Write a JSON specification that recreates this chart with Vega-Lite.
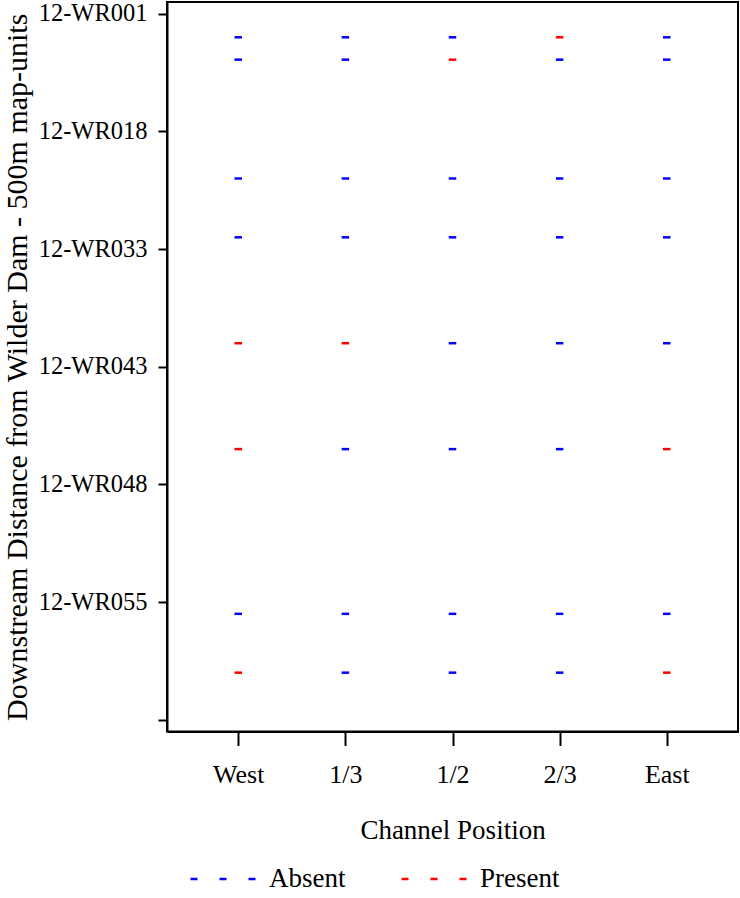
{
  "$schema": "https://vega.github.io/schema/vega-lite/v6.json",
  "autosize": {"type": "none"},
  "padding": {"left": 167, "top": 2, "right": 2, "bottom": 166.5},
  "width": 571,
  "height": 729.5,
  "background": "white",
  "config": {
    "font": "Liberation Serif, serif",
    "axis": {"labelFont": "Liberation Serif, serif", "titleFont": "Liberation Serif, serif"},
    "legend": {"labelFont": "Liberation Serif, serif", "titleFont": "Liberation Serif, serif"},
    "view": {"stroke": "black", "strokeWidth": 2}
  },
  "data": {
    "values": [
      {"site": 0.2, "position": "West", "status": "Absent"},
      {"site": 0.2, "position": "1/3", "status": "Absent"},
      {"site": 0.2, "position": "1/2", "status": "Absent"},
      {"site": 0.2, "position": "2/3", "status": "Present"},
      {"site": 0.2, "position": "East", "status": "Absent"},
      {"site": 0.39, "position": "West", "status": "Absent"},
      {"site": 0.39, "position": "1/3", "status": "Absent"},
      {"site": 0.39, "position": "1/2", "status": "Present"},
      {"site": 0.39, "position": "2/3", "status": "Absent"},
      {"site": 0.39, "position": "East", "status": "Absent"},
      {"site": 1.4, "position": "West", "status": "Absent"},
      {"site": 1.4, "position": "1/3", "status": "Absent"},
      {"site": 1.4, "position": "1/2", "status": "Absent"},
      {"site": 1.4, "position": "2/3", "status": "Absent"},
      {"site": 1.4, "position": "East", "status": "Absent"},
      {"site": 1.9, "position": "West", "status": "Absent"},
      {"site": 1.9, "position": "1/3", "status": "Absent"},
      {"site": 1.9, "position": "1/2", "status": "Absent"},
      {"site": 1.9, "position": "2/3", "status": "Absent"},
      {"site": 1.9, "position": "East", "status": "Absent"},
      {"site": 2.8, "position": "West", "status": "Present"},
      {"site": 2.8, "position": "1/3", "status": "Present"},
      {"site": 2.8, "position": "1/2", "status": "Absent"},
      {"site": 2.8, "position": "2/3", "status": "Absent"},
      {"site": 2.8, "position": "East", "status": "Absent"},
      {"site": 3.7, "position": "West", "status": "Present"},
      {"site": 3.7, "position": "1/3", "status": "Absent"},
      {"site": 3.7, "position": "1/2", "status": "Absent"},
      {"site": 3.7, "position": "2/3", "status": "Absent"},
      {"site": 3.7, "position": "East", "status": "Present"},
      {"site": 5.1, "position": "West", "status": "Absent"},
      {"site": 5.1, "position": "1/3", "status": "Absent"},
      {"site": 5.1, "position": "1/2", "status": "Absent"},
      {"site": 5.1, "position": "2/3", "status": "Absent"},
      {"site": 5.1, "position": "East", "status": "Absent"},
      {"site": 5.6, "position": "West", "status": "Present"},
      {"site": 5.6, "position": "1/3", "status": "Absent"},
      {"site": 5.6, "position": "1/2", "status": "Absent"},
      {"site": 5.6, "position": "2/3", "status": "Absent"},
      {"site": 5.6, "position": "East", "status": "Present"}
    ]
  },
  "mark": {"type": "point", "shape": "stroke", "filled": false, "size": 56, "strokeWidth": 2.5, "opacity": 1},
  "encoding": {
    "x": {
      "field": "position",
      "type": "ordinal",
      "sort": ["West", "1/3", "1/2", "2/3", "East"],
      "scale": {"type": "point", "padding": 0.665},
      "axis": {
        "title": "Channel Position",
        "titleFontSize": 27,
        "titleFontWeight": "normal",
        "titleColor": "black",
        "titlePadding": 30,
        "labelFontSize": 26,
        "labelColor": "black",
        "labelAngle": 0,
        "labelPadding": 16,
        "tickSize": 14,
        "tickWidth": 2,
        "tickColor": "black",
        "domainColor": "black",
        "domainWidth": 2,
        "grid": false
      }
    },
    "y": {
      "field": "site",
      "type": "quantitative",
      "scale": {"domain": [-0.1, 6.1], "reverse": true, "nice": false, "zero": false},
      "axis": {
        "title": "Downstream Distance from Wilder Dam - 500m map-units",
        "titleFontSize": 30,
        "titleFontWeight": "normal",
        "titleColor": "black",
        "titlePadding": 6,
        "values": [0, 1, 2, 3, 4, 5, 6],
        "labelExpr": "['12-WR001','12-WR018','12-WR033','12-WR043','12-WR048','12-WR055',''][datum.value]",
        "labelFontSize": 24.5,
        "labelColor": "black",
        "labelPadding": 11,
        "tickSize": 9,
        "tickWidth": 2,
        "tickColor": "black",
        "domainColor": "black",
        "domainWidth": 2,
        "grid": false
      }
    },
    "color": {
      "field": "status",
      "type": "nominal",
      "scale": {"domain": ["Absent", "Present"], "range": ["#0000FF", "#FF0000"]},
      "legend": {
        "title": null,
        "orient": "none",
        "direction": "horizontal",
        "legendX": 22,
        "legendY": 843,
        "symbolType": "stroke",
        "symbolSize": 4225,
        "symbolDash": [7, 22],
        "symbolStrokeWidth": 2.5,
        "symbolOpacity": 1,
        "labelFontSize": 27,
        "labelColor": "black",
        "labelOffset": 12,
        "columnPadding": 50,
        "labelBaseline": "middle",
        "encode": {"labels": {"enter": {"dy": {"value": 5}}, "update": {"dy": {"value": 5}}}}
      }
    }
  }
}
